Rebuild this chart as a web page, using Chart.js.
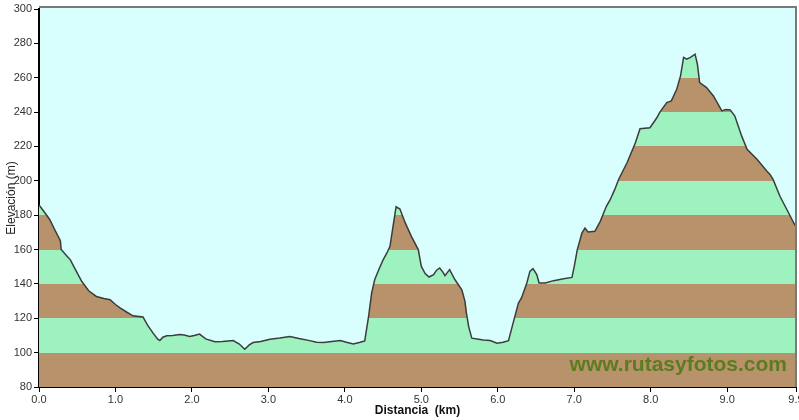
<!DOCTYPE html>
<html>
<head>
<meta charset="utf-8">
<script src="https://cdn.jsdelivr.net/npm/chart.js@4/dist/chart.umd.min.js"></script>
<style>
html,body{margin:0;padding:0;background:#fff;}
#wrap{width:799px;height:420px;}
</style>
</head>
<body>
<div id="wrap"><canvas id="c" width="799" height="420"></canvas></div>
<script>
// Distance (km) along the route
const distances = [0.00,0.05,0.14,0.20,0.27,0.28,0.29,0.35,0.41,0.48,0.56,0.65,0.75,0.85,0.93,1.00,1.06,1.15,1.23,1.36,1.42,1.49,1.55,1.58,1.62,1.67,1.75,1.84,1.90,1.97,2.03,2.10,2.18,2.30,2.40,2.54,2.62,2.69,2.75,2.80,2.90,3.02,3.15,3.28,3.40,3.54,3.63,3.72,3.83,3.94,4.02,4.11,4.20,4.26,4.31,4.35,4.39,4.45,4.50,4.55,4.59,4.63,4.67,4.72,4.79,4.87,4.96,5.00,5.05,5.10,5.16,5.20,5.24,5.28,5.31,5.37,5.44,5.53,5.57,5.59,5.62,5.66,5.75,5.81,5.90,5.99,6.07,6.14,6.20,6.27,6.31,6.38,6.42,6.46,6.51,6.54,6.62,6.73,6.86,6.97,7.00,7.04,7.10,7.14,7.18,7.27,7.34,7.42,7.47,7.53,7.58,7.69,7.80,7.86,7.99,8.08,8.12,8.21,8.27,8.34,8.39,8.43,8.47,8.52,8.58,8.61,8.64,8.73,8.82,8.93,8.98,9.04,9.10,9.19,9.26,9.39,9.52,9.56,9.60,9.69,9.78,9.87,9.90];
// Elevation (m)
const elevations = [186.0,183.0,177.5,172.0,166.0,165.0,160.0,157.0,154.0,148.0,141.4,136.0,132.7,131.5,130.8,128.0,126.0,123.5,121.4,120.8,116.0,111.5,108.0,107.0,109.0,109.8,110.0,110.5,110.3,109.4,110.0,110.8,108.0,106.4,106.5,107.0,105.0,102.0,104.5,105.9,106.5,107.8,108.5,109.4,108.2,107.0,106.0,105.9,106.5,107.0,106.0,105.0,106.0,106.8,121.0,134.6,142.4,149.0,154.0,158.0,161.9,173.5,184.9,183.6,175.5,167.7,160.0,150.2,146.0,144.0,145.4,148.0,149.3,147.0,144.8,148.3,142.4,136.6,130.0,123.0,115.0,108.4,107.8,107.4,107.0,105.5,106.0,107.0,117.2,128.8,131.8,140.5,147.3,148.9,145.4,140.5,140.5,141.9,143.0,143.8,150.2,160.0,169.6,172.5,170.2,170.6,176.4,185.2,189.0,195.0,200.8,210.5,222.2,230.3,230.9,236.7,240.0,245.5,246.5,253.3,261.1,271.8,270.8,271.8,273.7,268.0,257.2,254.3,249.4,240.7,241.5,241.3,237.7,226.0,218.3,212.5,205.6,203.7,200.8,191.0,183.3,175.5,173.4];
// Axis ticks
const xTicks = [0,1,2,3,4,5,6,7,8,9,9.9];
const yMin = 80, yMax = 300, yStep = 20;
const xTitle = 'Distancia  (km)';
const yTitle = 'Elevación (m)';
const watermark = 'www.rutasyfotos.com';

const BROWN = '#b8926a', GREEN = '#9ef2bf';

const points = distances.map((d, i) => ({x: d, y: elevations[i]}));

function bandFill(context) {
  const chart = context.chart;
  const area = chart.chartArea;
  if (!area) return GREEN;
  const g = chart.ctx.createLinearGradient(0, area.bottom, 0, area.top);
  const span = yMax - yMin;
  let idx = 0;
  for (let v = yMin; v < yMax; v += yStep, idx++) {
    const c = idx % 2 === 0 ? BROWN : GREEN;
    const a = (v - yMin) / span;
    const b = Math.min(1, (v + yStep - yMin) / span);
    g.addColorStop(a, c);
    g.addColorStop(b - 0.00001 < a ? b : b - 0.00001, c);
  }
  return g;
}

const bgPlugin = {
  id: 'bg',
  beforeDraw(chart) {
    const {ctx, chartArea: a} = chart;
    ctx.save();
    ctx.fillStyle = '#d9fefe';
    ctx.fillRect(a.left, a.top - 2, a.right - a.left, a.bottom - a.top + 2);
    ctx.restore();
  },
  afterDatasetsDraw(chart) {
    const {ctx, chartArea: a} = chart;
    ctx.save();
    ctx.strokeStyle = '#7a7a7a';
    ctx.lineWidth = 2;
    ctx.beginPath();
    ctx.moveTo(a.left, a.top - 2);
    ctx.lineTo(a.right, a.top - 2);
    ctx.lineTo(a.right, a.bottom);
    ctx.stroke();
    ctx.font = 'bold 21px "Liberation Sans", Arial, sans-serif';
    ctx.fillStyle = '#5b7d1f';
    ctx.textAlign = 'right';
    ctx.textBaseline = 'alphabetic';
    ctx.fillText(watermark, a.right - 9, 371);
    ctx.restore();
  }
};

new Chart(document.getElementById('c'), {
  type: 'line',
  data: {
    datasets: [{
      data: points,
      borderColor: '#3c3c3c',
      borderWidth: 1.5,
      pointRadius: 0,
      tension: 0,
      fill: 'start',
      backgroundColor: bandFill
    }]
  },
  options: {
    responsive: false,
    animation: false,
    layout: {padding: {top: 9, right: 3, left: 0, bottom: 0}},
    plugins: {legend: {display: false}, tooltip: {enabled: false}},
    scales: {
      x: {
        type: 'linear',
        min: 0, max: 9.9,
        afterBuildTicks(scale) { scale.ticks = xTicks.map(v => ({value: v})); },
        afterFit(scale) { scale.height = 33; scale.paddingRight = 0; scale.paddingLeft = 0; },
        ticks: {
          callback: v => Number(v).toFixed(1),
          font: {family: '"Liberation Sans", Arial, sans-serif', size: 11},
          color: '#333',
          padding: 1,
          maxRotation: 0,
          autoSkip: false
        },
        grid: {display: true, drawOnChartArea: false, drawTicks: true, tickLength: 5, color: '#000', lineWidth: 1},
        border: {display: true, color: '#000', width: 2},
        title: {
          display: true, text: xTitle,
          font: {family: '"Liberation Sans", Arial, sans-serif', size: 12, weight: 'bold'},
          color: '#111',
          padding: {top: 0, bottom: 2}
        }
      },
      y: {
        type: 'linear',
        min: yMin, max: yMax,
        ticks: {
          stepSize: yStep,
          font: {family: '"Liberation Sans", Arial, sans-serif', size: 11},
          color: '#333',
          padding: 2
        },
        afterFit(scale) { scale.width = 39; },
        grid: {display: true, drawOnChartArea: false, drawTicks: true, tickLength: 5, color: '#000', lineWidth: 1},
        border: {display: true, color: '#000', width: 2},
        title: {
          display: true, text: yTitle,
          font: {family: '"Liberation Sans", Arial, sans-serif', size: 12},
          color: '#222',
          padding: {top: 4, bottom: 0}
        }
      }
    }
  },
  plugins: [bgPlugin]
});
</script>
</body>
</html>
